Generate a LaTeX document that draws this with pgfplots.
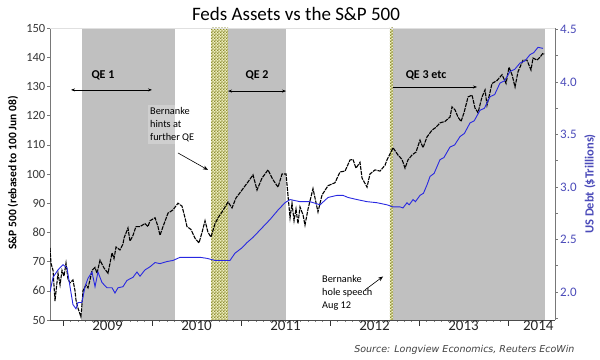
\documentclass[border=0pt]{standalone}
\usepackage{pgfplots}
\pgfplotsset{compat=1.18}
\usepackage{fontspec}
\setmainfont{Carlito}
\newfontfamily\srcfont{DejaVu Sans}
\usetikzlibrary{patterns,arrows.meta}
\definecolor{band}{RGB}{192,192,192}
\definecolor{hatchbg}{RGB}{238,238,190}
\definecolor{hatchfg}{RGB}{140,140,50}
\definecolor{fedblue}{RGB}{40,40,225}
\definecolor{rlab}{RGB}{75,75,185}
\definecolor{axgray}{RGB}{120,120,120}
\definecolor{lab}{RGB}{55,55,55}
\pgfdeclarepatternformonly{mycheck}{\pgfpointorigin}{\pgfqpoint{3.2pt}{3.2pt}}{\pgfqpoint{3.2pt}{3.2pt}}{%
  \pgfpathrectangle{\pgfpointorigin}{\pgfqpoint{1.6pt}{1.6pt}}%
  \pgfpathrectangle{\pgfqpoint{1.6pt}{1.6pt}}{\pgfqpoint{1.6pt}{1.6pt}}%
  \pgfusepath{fill}}

\pgfplotstableread{
x y
2008.854 74.7
2008.865 69.5
2008.888 67
2008.910 56.5
2008.933 63
2008.944 66
2008.967 62
2008.989 67
2009.011 65
2009.034 69.5
2009.056 64
2009.079 62.7
2009.112 63.7
2009.135 60
2009.146 56.8
2009.169 54
2009.202 51
2009.225 60
2009.258 62
2009.281 61
2009.303 63.7
2009.326 67
2009.360 68
2009.382 66
2009.416 70.5
2009.461 67.8
2009.506 66
2009.551 73
2009.573 71
2009.596 75
2009.640 74
2009.674 76
2009.685 78
2009.730 81.5
2009.753 77
2009.787 79
2009.820 82
2009.865 82
2009.921 83
2009.955 82
2009.978 84
2010.034 85
2010.067 82
2010.090 79
2010.124 82
2010.180 86.6
2010.236 87.7
2010.292 90
2010.337 89
2010.371 85
2010.393 82
2010.438 81
2010.483 78
2010.528 76.4
2010.562 80
2010.596 84
2010.629 80
2010.663 78.4
2010.708 83
2010.742 85
2010.787 87
2010.854 90.4
2010.899 88.4
2010.944 91.8
2011.011 94.5
2011.079 97.3
2011.135 99.7
2011.180 94.5
2011.236 98.6
2011.303 101.4
2011.360 98
2011.416 95.5
2011.461 100
2011.506 100
2011.551 85
2011.573 90
2011.596 84
2011.618 88
2011.640 83
2011.663 88.7
2011.697 86
2011.719 82.5
2011.753 88
2011.809 95
2011.865 87
2011.910 92.8
2011.978 96
2012.056 97
2012.112 100.7
2012.169 101
2012.225 104.8
2012.258 105
2012.292 102
2012.337 104
2012.360 98.6
2012.416 95.5
2012.449 100
2012.506 101.4
2012.562 101
2012.618 103
2012.640 104.8
2012.708 109
2012.764 106.5
2012.809 105
2012.843 102
2012.876 104.8
2012.921 106.5
2012.966 107.5
2013.011 111.6
2013.045 109
2013.090 112.7
2013.146 115
2013.191 116
2013.236 117.5
2013.292 118
2013.348 119.5
2013.371 123
2013.404 122
2013.438 119.5
2013.472 118
2013.506 121
2013.551 126.4
2013.596 127
2013.629 122.6
2013.663 121
2013.708 126.4
2013.742 128.8
2013.764 123.6
2013.798 128
2013.820 131
2013.876 132
2013.933 134
2013.978 131
2014.011 136.6
2014.045 134
2014.079 129.8
2014.112 135
2014.135 136.6
2014.169 139
2014.213 139
2014.258 135.6
2014.281 139.7
2014.326 139
2014.360 140
2014.393 141.4
2014.405 141
}\spx

\pgfplotstableread{
x y
2008.854 2.00
2008.888 2.14
2008.944 2.21
2009.000 2.26
2009.045 2.23
2009.079 2.05
2009.112 1.88
2009.146 1.84
2009.169 1.90
2009.213 1.90
2009.247 2.05
2009.281 2.13
2009.326 2.19
2009.360 2.05
2009.393 2.19
2009.438 2.09
2009.494 2.04
2009.551 2.04
2009.584 1.99
2009.618 2.04
2009.674 2.05
2009.719 2.11
2009.787 2.14
2009.831 2.19
2009.865 2.15
2009.921 2.21
2009.978 2.24
2010.034 2.28
2010.090 2.27
2010.169 2.29
2010.236 2.30
2010.315 2.33
2010.393 2.33
2010.539 2.33
2010.618 2.32
2010.708 2.30
2010.854 2.30
2010.876 2.30
2010.933 2.37
2011.011 2.42
2011.067 2.47
2011.135 2.52
2011.236 2.61
2011.326 2.69
2011.416 2.78
2011.494 2.85
2011.551 2.88
2011.607 2.87
2011.663 2.86
2011.775 2.86
2011.888 2.83
2011.978 2.90
2012.079 2.92
2012.146 2.92
2012.202 2.90
2012.303 2.88
2012.416 2.86
2012.528 2.85
2012.640 2.83
2012.708 2.81
2012.787 2.81
2012.820 2.80
2012.865 2.85
2012.890 2.83
2012.933 2.88
2012.960 2.86
2013.011 2.92
2013.050 2.94
2013.090 3.02
2013.124 3.10
2013.170 3.13
2013.236 3.26
2013.280 3.28
2013.348 3.38
2013.400 3.40
2013.461 3.48
2013.510 3.51
2013.573 3.61
2013.620 3.63
2013.685 3.73
2013.735 3.75
2013.798 3.86
2013.850 3.88
2013.910 3.99
2013.960 4.01
2014.022 4.10
2014.075 4.12
2014.135 4.18
2014.190 4.20
2014.247 4.26
2014.290 4.28
2014.337 4.33
2014.393 4.32
}\fed

\begin{document}
\begin{tikzpicture}
\useasboundingbox (0pt,0pt) rectangle (600pt,359pt);
% ---- axis A: bands + S&P (left axis)
\begin{axis}[
  at={(50pt,39pt)}, anchor=south west, scale only axis,
  width=505pt, height=292pt,
  xmin=2008.854, xmax=2014.528, ymin=50, ymax=150,
  axis x line=none, axis y line*=left,
  axis line style={draw=axgray, line width=0.6pt},
  ytick={50,60,...,150},
  tick align=outside, major tick length=3pt,
  tick style={axgray, line width=0.5pt},
  yticklabel style={font=\fontsize{12.5}{12.5}\selectfont, text=lab, inner sep=1.5pt},
  /pgf/number format/assume math mode=true,
  clip=true,
]
\addplot[draw=none, fill=band, forget plot] coordinates {(2009.213,50)(2009.213,150)(2010.258,150)(2010.258,50)} -- cycle;
\addplot[draw=none, fill=band, forget plot] coordinates {(2010.854,50)(2010.854,150)(2011.506,150)(2011.506,50)} -- cycle;
\addplot[draw=none, fill=band, forget plot] coordinates {(2012.708,50)(2012.708,150)(2014.416,150)(2014.416,50)} -- cycle;
\addplot[draw=none, fill=hatchbg, forget plot] coordinates {(2010.663,50)(2010.663,150)(2010.854,150)(2010.854,50)} -- cycle;
\addplot[draw=none, pattern=mycheck, pattern color=hatchfg, forget plot] coordinates {(2010.663,50)(2010.663,150)(2010.854,150)(2010.854,50)} -- cycle;
\addplot[draw=none, fill=hatchbg, forget plot] coordinates {(2012.674,50)(2012.674,150)(2012.708,150)(2012.708,50)} -- cycle;
\addplot[draw=none, pattern=mycheck, pattern color=hatchfg, forget plot] coordinates {(2012.674,50)(2012.674,150)(2012.708,150)(2012.708,50)} -- cycle;
\draw[black!12, line width=0.8pt] (rel axis cs:0,1) -- (rel axis cs:1,1);
% annotations
\node[font=\bfseries\fontsize{12}{12}\selectfont] at (axis cs:2009.449,133.9) {QE 1};
\draw[{Stealth[length=4pt,width=3pt]}-{Stealth[length=4pt,width=3pt]}, line width=0.6pt] (axis cs:2009.090,128.8) -- (axis cs:2010.0,128.8);
\node[font=\bfseries\fontsize{12}{12}\selectfont] at (axis cs:2011.180,133.9) {QE 2};
\draw[{Stealth[length=4pt,width=3pt]}-{Stealth[length=4pt,width=3pt]}, line width=0.6pt] (axis cs:2010.854,128.4) -- (axis cs:2011.506,128.4);
\node[font=\bfseries\fontsize{12}{12}\selectfont] at (axis cs:2013.079,133.9) {QE 3 etc};
\draw[-{Stealth[length=4pt,width=3pt]}, line width=0.6pt] (axis cs:2012.708,129.8) -- (axis cs:2013.652,129.8);
\node[anchor=north west, align=left, fill=white, fill opacity=0.25, text opacity=1, inner sep=2pt,
      font=\fontsize{10.3}{13}\selectfont] at (axis cs:2009.955,123.6) {Bernanke\\hints at\\further QE};
\draw[-{Stealth[length=5pt,width=4pt]}, line width=0.6pt] (axis cs:2010.292,107.2) -- (axis cs:2010.629,101.4);
\node[anchor=north west, align=left, inner sep=0pt,
      font=\fontsize{10.3}{13}\selectfont] at (axis cs:2011.910,65.5) {Bernanke\\hole speech\\Aug 12};
\draw[-{Stealth[length=5pt,width=4pt]}, line width=0.6pt] (axis cs:2012.393,60.3) -- (axis cs:2012.596,64.9);
\addplot[black, line width=1.1pt, dash pattern=on 4pt off 1pt] table {\spx};
\end{axis}
% ---- axis B: Fed assets (right axis)
\begin{axis}[
  at={(50pt,39pt)}, anchor=south west, scale only axis,
  width=505pt, height=292pt,
  xmin=2008.854, xmax=2014.528, ymin=1.733, ymax=4.514,
  axis x line=none, axis y line*=right,
  axis line style={draw=axgray, line width=0.6pt},
  ytick={2.0,2.5,...,4.5}, minor ytick={1.75,2.25,...,4.25},
  yticklabel style={/pgf/number format/.cd, fixed, fixed zerofill, precision=1, /tikz/.cd,
     font=\fontsize{13}{13}\selectfont, text=rlab, inner sep=2pt},
  /pgf/number format/assume math mode=true,
  tick align=outside, major tick length=3pt, minor tick length=3pt,
  tick style={axgray, line width=0.5pt},
]
\addplot[fedblue, line width=0.9pt] table {\fed};
\end{axis}
% ---- axis C: time axis
\begin{axis}[
  at={(50pt,39pt)}, anchor=south west, scale only axis,
  width=505pt, height=292pt,
  xmin=2008.854, xmax=2014.528, ymin=0, ymax=1,
  axis y line=none, axis x line*=bottom,
  axis line style={draw=black!70, line width=0.7pt},
  xtick={2009,2010,2011,2012,2013,2014}, xticklabels={},
  minor x tick num=11,
  tick align=outside, major tick length=6pt, minor tick length=2pt,
  every major tick/.style={black!80, line width=0.8pt},
  every minor tick/.style={black!50, line width=0.4pt},
  extra x ticks={2009.5,2010.5,2011.5,2012.5,2013.5,2014.34},
  extra x tick labels={2009,2010,2011,2012,2013,2014},
  extra x tick style={major tick length=0pt, xticklabel style={font=\fontsize{15}{15}\selectfont, text=black!85, inner sep=1pt}},
]
\end{axis}
% titles and labels
\node[font=\fontsize{19}{19}\selectfont] at (296pt,345pt) {Feds Assets vs the S\&P 500};
\node[rotate=90, font=\bfseries\fontsize{11.5}{11.5}\selectfont] at (13pt,186pt) {S\&P 500 (rebased to 100 Jun 08)};
\node[rotate=90, font=\bfseries\fontsize{12.5}{12.5}\selectfont, text=rlab] at (590pt,175pt) {US Debt (\$Trillions)};
\node[anchor=east, font=\srcfont\itshape\fontsize{9.5}{9.5}\selectfont, text=black!75] at (578pt,9pt) {Source: Longview Economics, Reuters EcoWin};
\end{tikzpicture}
\end{document}
